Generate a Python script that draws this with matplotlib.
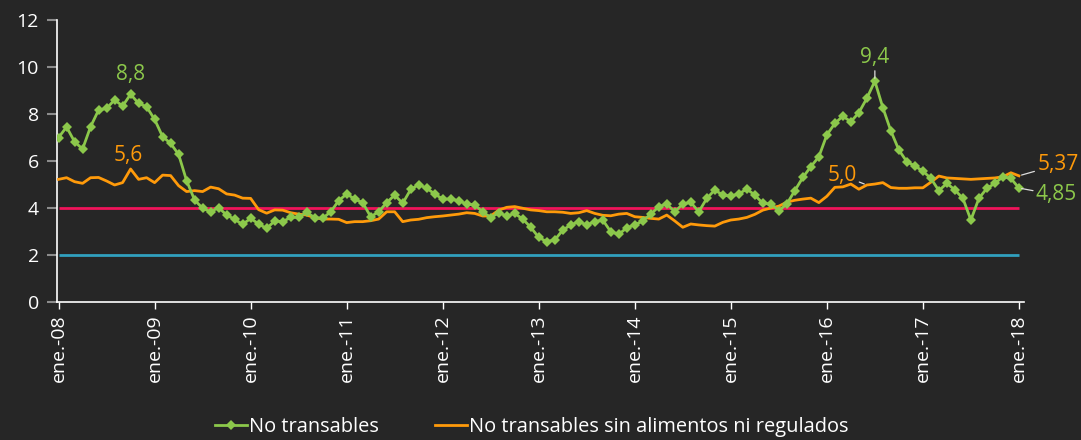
import matplotlib
matplotlib.use("Agg")
import matplotlib.pyplot as plt
import numpy as np

# ---- data (monthly, ene-2008 .. ene-2018) ----
no_transables = [
    7.0, 7.45, 6.82, 6.51, 7.46, 8.17, 8.24, 8.6, 8.34, 8.84, 8.45, 8.31,
    7.77, 7.04, 6.75, 6.28, 5.16, 4.34, 3.99, 3.84, 4.02, 3.70, 3.52, 3.30,
    3.56, 3.32, 3.13, 3.45, 3.42, 3.6, 3.6, 3.82, 3.59, 3.56, 3.84, 4.31,
    4.6, 4.38, 4.23, 3.63, 3.84, 4.23, 4.55, 4.2, 4.79, 5.0, 4.84, 4.6,
    4.38, 4.38, 4.31, 4.17, 4.13, 3.84, 3.59, 3.8, 3.66, 3.77, 3.53, 3.18,
    2.75, 2.57, 2.64, 3.06, 3.28, 3.42, 3.28, 3.42, 3.49, 2.99, 2.88, 3.16,
    3.28, 3.45, 3.74, 4.06, 4.17, 3.84, 4.17, 4.24, 3.84, 4.41, 4.77, 4.55,
    4.51, 4.6, 4.81, 4.55, 4.2, 4.17, 3.89, 4.17, 4.74, 5.3, 5.76, 6.18,
    7.11, 7.6, 7.91, 7.67, 8.06, 8.67, 9.4, 8.27, 7.28, 6.47, 5.97, 5.79,
    5.57, 5.26, 4.74, 5.05, 4.77, 4.41, 3.49, 4.41, 4.84, 5.05, 5.33, 5.26,
    4.85,
]
sin_alim_reg = [
    5.22, 5.29, 5.12, 5.05, 5.29, 5.3, 5.15, 4.98, 5.08, 5.66, 5.22, 5.29,
    5.08, 5.4, 5.38, 4.95, 4.7, 4.74, 4.7, 4.89, 4.82, 4.6, 4.55, 4.42,
    4.41, 3.93, 3.78, 3.92, 3.91, 3.8, 3.74, 3.70, 3.59, 3.53, 3.53, 3.52,
    3.38, 3.42, 3.42, 3.46, 3.53, 3.84, 3.84, 3.42, 3.49, 3.52, 3.59, 3.63,
    3.66, 3.70, 3.74, 3.8, 3.77, 3.66, 3.66, 3.91, 4.03, 4.06, 3.99, 3.92,
    3.89, 3.84, 3.84, 3.82, 3.77, 3.8, 3.89, 3.77, 3.69, 3.67, 3.74, 3.77,
    3.63, 3.6, 3.56, 3.53, 3.70, 3.45, 3.18, 3.32, 3.28, 3.25, 3.23, 3.39,
    3.49, 3.53, 3.6, 3.73, 3.91, 4.0, 4.08, 4.25, 4.33, 4.38, 4.42, 4.23,
    4.5, 4.88, 4.9, 5.02, 4.8, 4.98, 5.02, 5.08, 4.87, 4.84, 4.84, 4.86,
    4.86, 5.1, 5.36, 5.28, 5.26, 5.24, 5.22, 5.24, 5.26, 5.28, 5.33, 5.5,
    5.37,
]
meta_techo = 4.0
meta_piso = 2.0
tick_labels = ["ene.-08", "ene.-09", "ene.-10", "ene.-11", "ene.-12", "ene.-13",
               "ene.-14", "ene.-15", "ene.-16", "ene.-17", "ene.-18"]
y_ticks = [0, 2, 4, 6, 8, 10, 12]

# ---- style ----
BG = "#262626"
GREEN = "#8CC84B"
ORANGE = "#FF9A0A"
RED = "#F0145A"
CYAN = "#31A0BE"
FONT = ["Open Sans", "DejaVu Sans"]
plt.rcParams["font.family"] = FONT

months = np.arange(len(no_transables))

fig = plt.figure(figsize=(10.81, 4.40), dpi=100, facecolor=BG)
ax = fig.add_axes([0.0527, 0.3136, 0.947 - 0.0527, 0.9545 - 0.3136])
ax.set_facecolor(BG)

ax.hlines(meta_piso, months[0], months[-1], color=CYAN, lw=2.0, zorder=2)
ax.hlines(meta_techo, months[0], months[-1], color=RED, lw=2.0, zorder=2)

l_orange, = ax.plot(months, sin_alim_reg, color=ORANGE, lw=2.0, zorder=3,
                    label="No transables sin alimentos ni regulados")
l_green, = ax.plot(months, no_transables, color=GREEN, lw=2.0, marker="D",
                   markersize=5.5, markeredgewidth=0, zorder=4,
                   label="No transables")

ax.set_xlim(-0.2, 120.6)
ax.set_ylim(0, 12)
ax.set_yticks(y_ticks)
ax.set_xticks(np.arange(0, 121, 12))
ax.set_xticklabels(tick_labels, rotation=90)

for s in ["top", "right"]:
    ax.spines[s].set_visible(False)
for s in ["left", "bottom"]:
    ax.spines[s].set_color("white")
    ax.spines[s].set_linewidth(1.2)

ax.tick_params(axis="y", colors="#8C8C8C", length=7, width=1.5, labelsize=14,
               labelcolor="white", pad=6)
ax.tick_params(axis="x", colors="white", length=5, width=1, labelsize=14,
               labelcolor="white", pad=4)

# ---- data labels ----
def lab(i, series, text, color, dx, dy, leader=False):
    kw = {}
    if leader:
        kw["arrowprops"] = dict(arrowstyle="-", color="#DDDDDD", lw=0.9,
                                shrinkA=0, shrinkB=2)
    ax.annotate(text, xy=(i, series[i]), xytext=(dx, dy),
                textcoords="offset points", ha="center", va="center",
                color=color, fontsize=15, zorder=6, **kw)

lab(9, no_transables, "8,8", GREEN, 0, 14)
lab(9, sin_alim_reg, "5,6", ORANGE, -2, 10)
lab(102, no_transables, "9,4", GREEN, 0, 17, leader=True)
lab(101, sin_alim_reg, "5,0", ORANGE, -18, 7, leader=True)
lab(120, sin_alim_reg, "5,37", ORANGE, 28, 8, leader=True)
lab(120, no_transables, "4,85", GREEN, 27, -5, leader=True)

leg = fig.legend(handles=[l_green, l_orange], loc="lower center",
                 bbox_to_anchor=(0.492, -0.035), ncol=2,
                 frameon=False, fontsize=14.4, labelcolor="white",
                 handlelength=1.6, handletextpad=0.1, columnspacing=2.8)

fig.savefig("out.png", dpi=100, facecolor=BG)
